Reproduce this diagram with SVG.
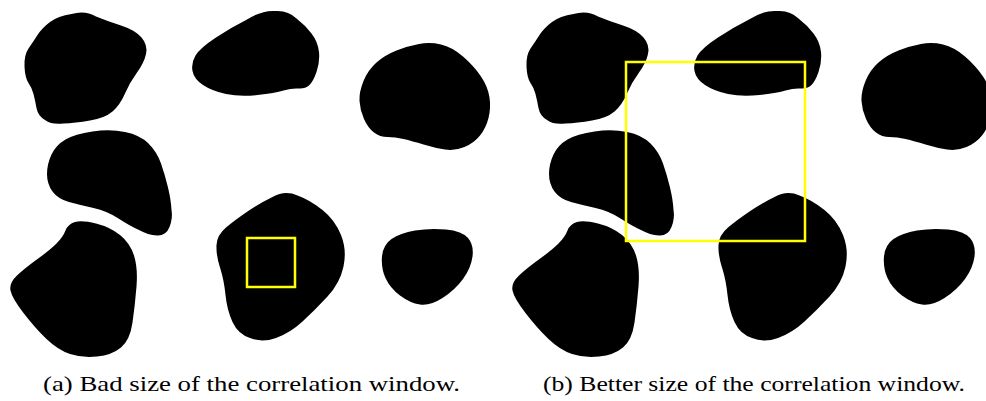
<svg xmlns="http://www.w3.org/2000/svg" xmlns:xlink="http://www.w3.org/1999/xlink" width="986" height="401" viewBox="0 0 986 401">
<style>
.blob{fill:#000;stroke:none}
.win{fill:none;stroke:#ffff00;stroke-width:2.5}
.cap{font-family:"Liberation Serif","DejaVu Serif",serif;font-size:22px;fill:#000}
</style>
<defs>
<g id="blobs">
<path class="blob" d="M71.5,14 Q85,10 96,16.5 Q107,21 121,25.5 Q135,30 141.5,37.5 Q148,45 146,54 Q144,63 137,72.5 Q130,82 125,93.5 Q120,105 112.5,111.5 Q105,118 90,120.5 Q75,123 63.5,123.5 Q52,125 45,120 Q38,116 36.5,108 Q35,100 33.5,94 Q32,88 28.5,83 Q25,78 24.5,66.5 Q24,55 28.5,48.5 Q33,42 37.5,35 Q42,28 50,22 Q58,16 71.5,14 Z"/>
<path class="blob" d="M192.5,71 Q191,63 195.5,55.5 Q200,48 216,37.5 Q232,27 247,19.5 Q262,10 275,11 Q288,10 296.5,18.5 Q305,25 311.5,33.5 Q318,42 319,52 Q320,62 316.5,72 Q313,82 309,85.5 Q305,89 298.5,88.5 Q292,88 283.5,90.5 Q275,93 257.5,95 Q240,97 226,94 Q212,91 203,85 Q194,79 192.5,71 Z"/>
<path class="blob" d="M419,44 Q430,42 441,44.5 Q452,47 463,56.5 Q474,66 481,76.5 Q488,87 489.5,97.5 Q491,108 488.5,118 Q486,128 480,135.5 Q474,143 464.5,147 Q455,151 445,149.5 Q435,148 423.5,144.5 Q412,141 403.5,139 Q395,137 387.5,137 Q380,137 374,132.5 Q368,128 364,119 Q360,110 359.5,101 Q359,92 363.5,81 Q368,70 376.5,62.5 Q385,55 396.5,50.5 Q408,46 419,44 Z"/>
<path class="blob" d="M92.5,131.5 Q110,129 125,132 Q140,135 148.5,143.5 Q157,152 161,163.5 Q165,175 168,187.5 Q171,200 171.5,210 Q173,218 169.5,227 Q166,236 157,235.5 Q148,235 139,230 Q130,226 118.5,218.5 Q107,211 93.5,208 Q80,205 69,202 Q58,199 52.5,191.5 Q47,184 47,174 Q47,164 51.5,154.5 Q56,145 65.5,139.5 Q75,134 92.5,131.5 Z"/>
<path class="blob" d="M75,222 Q82,220 96,223.5 Q110,227 120,235 Q130,243 134,255.5 Q138,268 136.5,286.5 Q135,305 132.5,322.5 Q130,340 121,347.5 Q112,355 97,356.5 Q82,358 70,354 Q58,350 46.5,339 Q35,328 23.5,313 Q12,298 10.5,290.5 Q9,283 17,275.5 Q25,268 37.5,259 Q50,250 56.5,243.5 Q63,237 65.5,230.5 Q68,224 75,222 Z"/>
<path class="blob" d="M272.5,197 Q285,190 297.5,195.5 Q310,200 322.5,210 Q335,220 341,235 Q347,250 343.5,266.5 Q340,283 327.5,296.5 Q315,310 302.5,321.5 Q290,333 276,338 Q262,343 250,338 Q238,334 232.5,322 Q227,310 225.5,295 Q224,280 220,267.5 Q216,255 216.5,245 Q217,235 226,227.5 Q235,220 247.5,211.5 Q260,203 272.5,197 Z"/>
<path class="blob" d="M391.5,239 Q400,233 415,230.5 Q430,228 446,229.5 Q462,231 468,238 Q474,245 472.5,256.5 Q471,268 463,279 Q455,290 442.5,298 Q430,306 420,304.5 Q410,303 400,295.5 Q390,288 385.5,278 Q381,268 382,256.5 Q383,245 391.5,239 Z"/>
</g>
</defs>
<g id="panel-a">
<use xlink:href="#blobs"/>
<rect id="window-a" class="win" x="247" y="238" width="48" height="49"/>
<text id="caption-a" class="cap" x="43" y="391" textLength="417" lengthAdjust="spacingAndGlyphs">(a) Bad size of the correlation window.</text>
</g>
<g id="panel-b">
<use xlink:href="#blobs" x="502"/>
<rect id="window-b" class="win" x="626" y="62" width="179" height="179"/>
<text id="caption-b" class="cap" x="543" y="391" textLength="422" lengthAdjust="spacingAndGlyphs">(b) Better size of the correlation window.</text>
</g>
<g id="connectors"/>
</svg>
